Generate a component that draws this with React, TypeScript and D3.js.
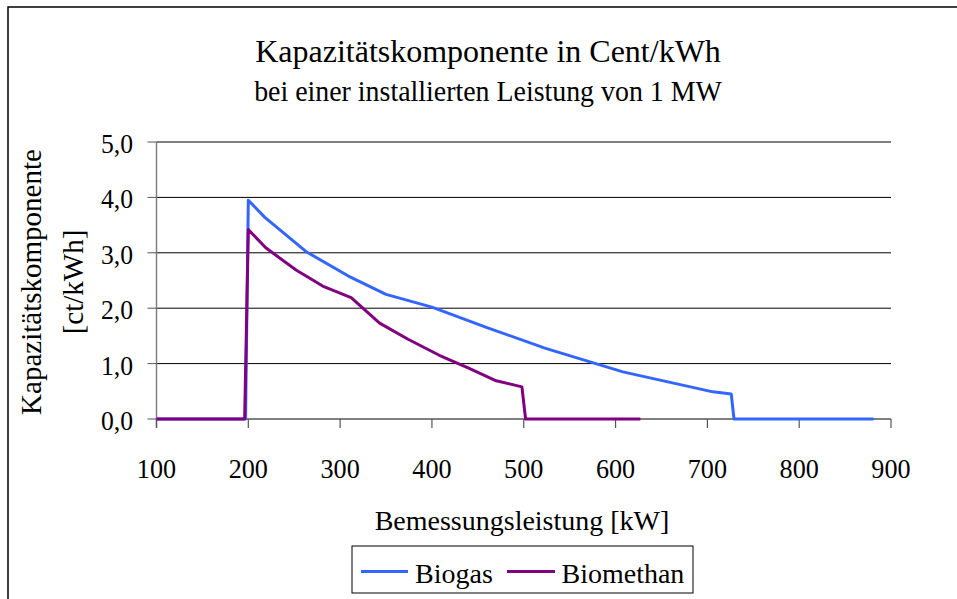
import React from "react";
import * as d3 from "d3";

const biogasX = [100, 197, 200, 218, 263, 309, 350, 400, 460, 523, 608, 706, 726, 729, 881];
const biogasY = [0, 0, 3.95, 3.64, 3.02, 2.58, 2.25, 2.02, 1.65, 1.28, 0.85, 0.49, 0.45, 0, 0];
const biomethanX = [100, 196, 200, 219, 252, 281, 312, 343, 374, 408, 440, 470, 498, 502, 627];
const biomethanY = [0, 0, 3.42, 3.09, 2.69, 2.4, 2.19, 1.73, 1.44, 1.15, 0.92, 0.69, 0.58, 0, 0];
const xTicks = [100, 200, 300, 400, 500, 600, 700, 800, 900];
const yTicks = [0, 1, 2, 3, 4, 5];
const seriesNames = ["Biogas", "Biomethan"];
const seriesColors = ["#3366ff", "#800080"];
const title = "Kapazitätskomponente in Cent/kWh";
const subtitle = "bei einer installierten Leistung von 1 MW";
const xTitle = "Bemessungsleistung [kW]";
const yTitle1 = "Kapazitätskomponente";
const yTitle2 = "[ct/kWh]";

const FONT = "Liberation Serif";

function T({ x, y, size, sx = 1, anchor = "middle", rotate = 0, children }: any) {
  return (
    <text
      transform={`translate(${x},${y}) rotate(${rotate}) scale(${sx},1)`}
      style={{ fontFamily: FONT, fontSize: size + "px" }}
      textAnchor={anchor}
      fill="#000"
    >
      {children}
    </text>
  );
}

export default function App() {
  const W = 957;
  const H = 599;
  const left = 156.5;
  const right = 891;
  const top = 142;
  const bottom = 419;
  const x = d3.scaleLinear().domain([100, 900]).range([left, right]);
  const y = d3.scaleLinear().domain([0, 5]).range([bottom, top]);
  const line = d3
    .line<[number, number]>()
    .x((d) => x(d[0]))
    .y((d) => y(d[1]));
  const series = [
    biogasX.map((v, i) => [v, biogasY[i]] as [number, number]),
    biomethanX.map((v, i) => [v, biomethanY[i]] as [number, number]),
  ];
  const fmt = (v: number) => v.toFixed(1).replace(".", ",");

  return (
    <svg
      width={W}
      height={H}
      style={{ position: "absolute", left: 0, top: 0, background: "#fff" }}
    >
      <rect x={0} y={0} width={W} height={H} fill="#fff" />
      <rect x={8} y={7} width={1000} height={1000} fill="none" stroke="#000" strokeWidth={1.5} />

      <T x={488} y={61.5} size={32}>{title}</T>
      <T x={488} y={101} size={30} sx={0.93}>{subtitle}</T>

      {/* gridlines */}
      {yTicks.map((t) => (
        <line key={"g" + t} x1={left} x2={right} y1={y(t)} y2={y(t)} stroke="#000" strokeWidth={1} />
      ))}
      {/* y axis */}
      <line x1={left} x2={left} y1={top} y2={bottom + 9} stroke="#808080" strokeWidth={1.5} />
      {yTicks.map((t) => (
        <line key={"yt" + t} x1={left - 9} x2={left} y1={y(t)} y2={y(t)} stroke="#555" strokeWidth={1} />
      ))}
      {yTicks.map((t) => (
        <T key={"yl" + t} x={133} y={y(t) + 11} size={27} sx={0.95} anchor="end">{fmt(t)}</T>
      ))}
      {/* x axis ticks */}
      {xTicks.map((t) => (
        <line key={"xt" + t} x1={x(t)} x2={x(t)} y1={bottom} y2={bottom + 9} stroke="#555" strokeWidth={1.2} />
      ))}
      {xTicks.map((t) => (
        <T key={"xl" + t} x={x(t)} y={478} size={27} sx={0.97}>{t}</T>
      ))}

      {/* series */}
      {series.map((s, i) => (
        <path
          key={"s" + i}
          d={line(s) || ""}
          fill="none"
          stroke={seriesColors[i]}
          strokeWidth={3}
          strokeLinejoin="round"
        />
      ))}

      <T x={522} y={530} size={28}>{xTitle}</T>
      <T x={41} y={282} size={29} rotate={-90}>{yTitle1}</T>
      <T x={83} y={282} size={29} rotate={-90}>{yTitle2}</T>

      {/* legend */}
      <rect x={352} y={546} width={341} height={47} fill="#fff" stroke="#000" strokeWidth={1} />
      <line x1={361} x2={408} y1={571.5} y2={571.5} stroke={seriesColors[0]} strokeWidth={3} />
      <T x={415} y={583} size={28} anchor="start">{seriesNames[0]}</T>
      <line x1={507} x2={555} y1={571.5} y2={571.5} stroke={seriesColors[1]} strokeWidth={3} />
      <T x={561.5} y={583} size={28} anchor="start">{seriesNames[1]}</T>
    </svg>
  );
}
